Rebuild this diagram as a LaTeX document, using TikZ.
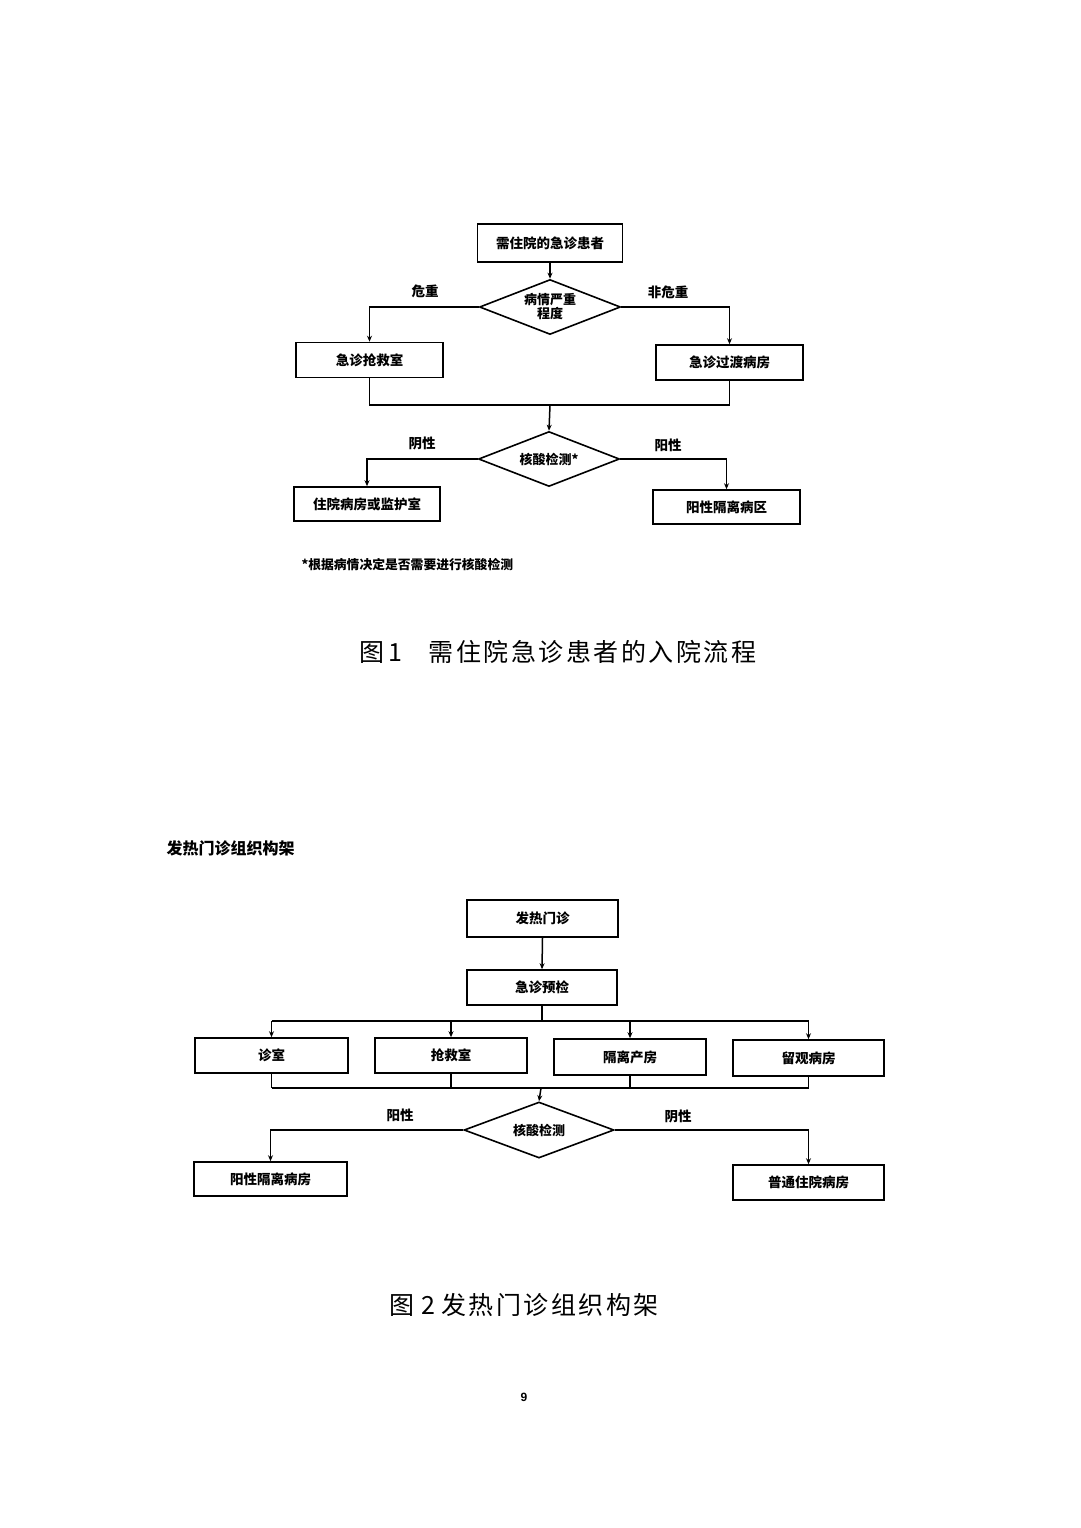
\documentclass[tikz,border=0pt]{standalone}
\usepackage{fontspec}
\setmainfont{Liberation Sans}
\newfontfamily\cjk{Noto Sans CJK SC}
\newfontfamily\cjkcap[LetterSpace=10]{Noto Sans CJK SC}
\usetikzlibrary{shapes.geometric,arrows.meta}
\tikzset{
  box/.style={draw=black, line width=1.6pt, rectangle, inner sep=0pt, font=\cjk\bfseries\fontsize{13.5}{15}\selectfont},
  dia/.style={draw=black, line width=1.6pt, diamond, aspect=2.6, inner sep=0pt, minimum width=141pt, minimum height=55pt, align=center, font=\cjk\bfseries\fontsize{13}{14}\selectfont},
  lbl/.style={font=\cjk\bfseries\fontsize{13.5}{15}\selectfont},
  captxt/.style={font=\cjkcap\fontsize{25}{28}\selectfont},
  ln/.style={line width=1.5pt},
  arr/.style={line width=1.5pt, -{Stealth[length=6pt,width=5pt]}}
}
\begin{document}
\begin{tikzpicture}[x=1pt,y=-1pt]
\useasboundingbox[fill=white] (0,0) rectangle (1080,1528);
% ---------- Figure 1 ----------
\node[box, minimum width=145pt, minimum height=38pt] (top1) at (550,243) {需住院的急诊患者};
\node[dia] (d1) at (550,307) {病情严重\\程度};
\node[box, minimum width=147pt, minimum height=35pt] (L1) at (369.5,360) {急诊抢救室};
\node[box, minimum width=147pt, minimum height=35pt] (R1) at (729.5,362.5) {急诊过渡病房};
\node[lbl] (lw) at (425,291) {危重};
\node[lbl] (rw) at (668,292) {非危重};
\draw[arr] (top1.south) -- (d1.north);
\draw[arr] (d1.west) -| (L1.north);
\draw[arr] (d1.east) -| (R1.north);
\coordinate (j1) at (550,405);
\draw[ln] (L1.south) |- (j1) -| (R1.south);
\node[dia] (d2) at (549,459) {核酸检测*};
\draw[arr] (j1) -- (d2.north);
\node[box, minimum width=146pt, minimum height=34pt] (L2) at (367,504) {住院病房或监护室};
\node[box, minimum width=147pt, minimum height=34pt] (R2) at (726.5,507) {阳性隔离病区};
\node[lbl] (ln2) at (422,443) {阴性};
\node[lbl] (rp2) at (668,445) {阳性};
\draw[arr] (d2.west) -| (L2.north);
\draw[arr] (d2.east) -| (R2.north);
\node[font=\cjk\bfseries\fontsize{12.8}{14}\selectfont, anchor=west] (fn) at (298,565) {*根据病情决定是否需要进行核酸检测};
\node[captxt, anchor=west] (cap1) at (356,652) {图\,1\hspace{26pt}需住院急诊患者的入院流程};
% ---------- Figure 2 ----------
\node[font=\cjk\bfseries\fontsize{16}{18}\selectfont, anchor=west] (t2) at (163,848) {发热门诊组织构架};
\node[box, minimum width=151pt, minimum height=37pt] (f1) at (542.5,918.5) {发热门诊};
\node[box, minimum width=150pt, minimum height=35pt] (f2) at (542,987.5) {急诊预检};
\draw[arr] (f1.south) -- (f2.north);
\node[box, minimum width=153pt, minimum height=35pt] (A) at (271.5,1055.5) {诊室};
\node[box, minimum width=152pt, minimum height=35pt] (B) at (451,1055.5) {抢救室};
\node[box, minimum width=152pt, minimum height=36pt] (C) at (630,1057) {隔离产房};
\node[box, minimum width=151pt, minimum height=36pt] (D) at (808.5,1058) {留观病房};
\coordinate (b1) at (542,1021);
\draw[ln] (f2.south) -- (b1);
\draw[ln] (A.north |- b1) -- (D.north |- b1);
\draw[arr] (A.north |- b1) -- (A.north);
\draw[arr] (B.north |- b1) -- (B.north);
\draw[arr] (C.north |- b1) -- (C.north);
\draw[arr] (D.north |- b1) -- (D.north);
\coordinate (b2) at (541,1088);
\draw[ln] (A.south) -- (A.south |- b2);
\draw[ln] (B.south) -- (B.south |- b2);
\draw[ln] (C.south) -- (C.south |- b2);
\draw[ln] (D.south) -- (D.south |- b2);
\draw[ln] (A.south |- b2) -- (D.south |- b2);
\node[dia, minimum width=150pt, minimum height=56pt] (d3) at (539,1130) {核酸检测};
\draw[arr] (b2) -- (d3.north);
\node[box, minimum width=153pt, minimum height=34pt] (P) at (270.5,1179) {阳性隔离病房};
\node[box, minimum width=151pt, minimum height=35pt] (N) at (808.5,1182.5) {普通住院病房};
\node[lbl] (lp3) at (400,1115) {阳性};
\node[lbl] (rn3) at (678,1116) {阴性};
\draw[arr] (d3.west) -| (P.north);
\draw[arr] (d3.east) -| (N.north);
\node[captxt, anchor=west] (cap2) at (386,1305) {图\hspace{7pt}2\hspace{6pt}发热门诊组织构架};
\node[font=\bfseries\fontsize{12}{14}\selectfont] (pg) at (524,1397) {9};
\end{tikzpicture}
\end{document}
